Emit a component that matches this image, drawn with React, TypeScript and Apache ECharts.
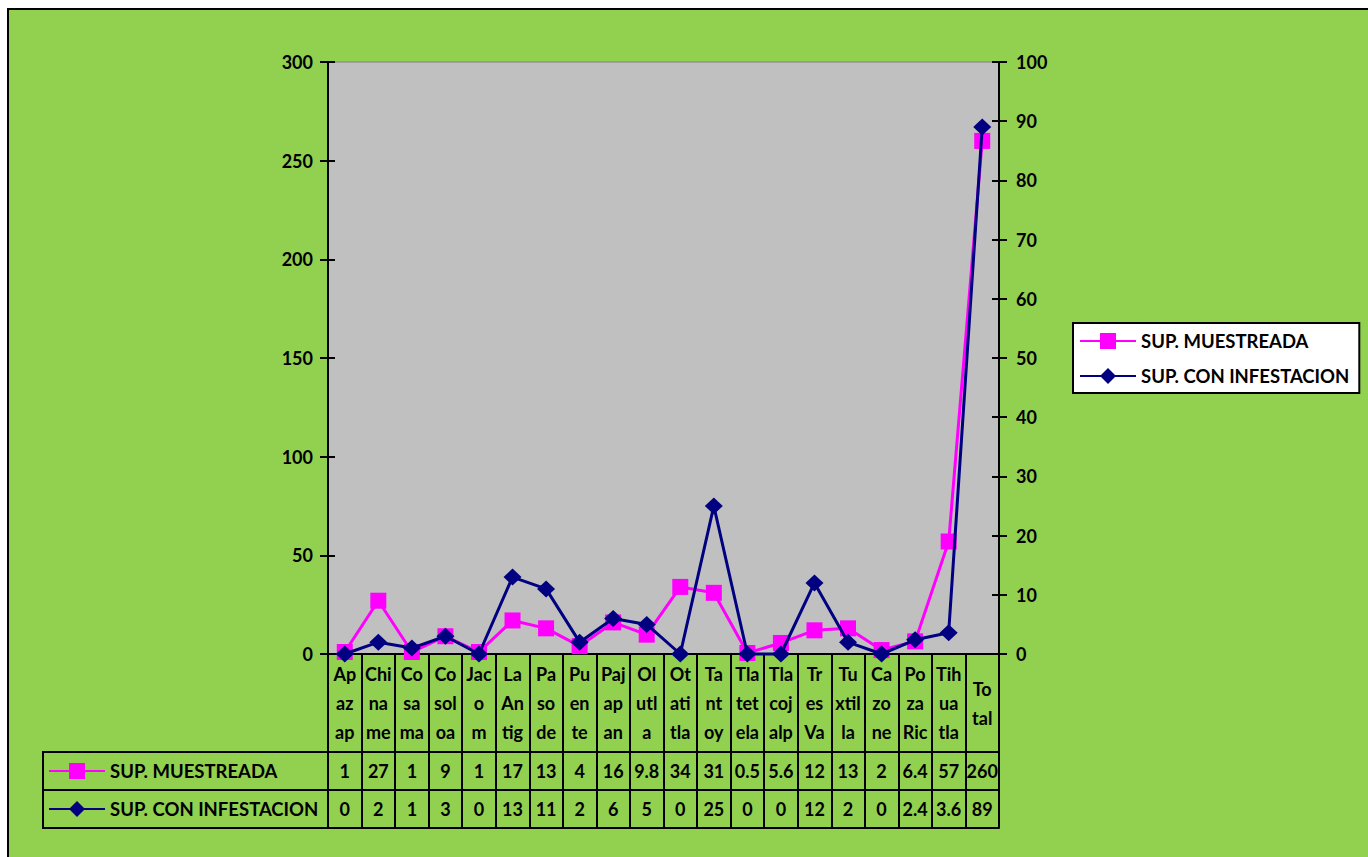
import React, { useEffect, useRef } from "react";
import * as echarts from "echarts";

const categories = [
  "Ap\naz\nap", "Chi\nna\nme", "Co\nsa\nma", "Co\nsol\noa", "Jac\no\nm",
  "La\nAn\ntig", "Pa\nso\nde", "Pu\nen\nte", "Paj\nap\nan", "Ol\nutl\na",
  "Ot\nati\ntla", "Ta\nnt\noy", "Tla\ntet\nela", "Tla\ncoj\nalp", "Tr\nes\nVa",
  "Tu\nxtil\nla", "Ca\nzo\nne", "Po\nza\nRic", "Tih\nua\ntla", "To\ntal",
];
const muestreada = [1, 27, 1, 9, 1, 17, 13, 4, 16, 9.8, 34, 31, 0.5, 5.6, 12, 13, 2, 6.4, 57, 260];
const infestacion = [0, 2, 1, 3, 0, 13, 11, 2, 6, 5, 0, 25, 0, 0, 12, 2, 0, 2.4, 3.6, 89];
const seriesNames = ["SUP. MUESTREADA", "SUP. CON INFESTACION"];
const leftAxis = { min: 0, max: 300, interval: 50 };
const rightAxis = { min: 0, max: 100, interval: 10 };

const FONT = "Lato, 'DejaVu Sans', sans-serif";
const W = 1368;
const H = 857;
const G = { left: 328, right: 999, top: 62, bottom: 654 };
const ROW1 = 752;
const ROW2 = 790;
const ROW3 = 828;
const TABLE_LEFT = 43;

export default function App() {
  const ref = useRef<HTMLDivElement>(null);
  useEffect(() => {
    if (!ref.current) return;
    const chart = echarts.init(ref.current, null, { renderer: "svg" });
    const txt = { fontFamily: FONT, fontWeight: "bold" as const, fontSize: 18, color: "#000" };
    const black2 = { color: "#000", width: 2 };
    const tableAxis = (offset: number, values: number[] | null) => ({
      type: "category" as const,
      data: categories,
      position: "bottom" as const,
      offset,
      boundaryGap: true,
      axisLine: { show: true, onZero: false, lineStyle: black2 },
      axisTick: { show: false },
      axisLabel: values
        ? {
            show: true,
            interval: 0,
            hideOverlap: false,
            verticalAlign: "middle" as const,
            margin: 19,
            ...txt,
            formatter: (_v: string, i: number) => String(values[i]),
          }
        : { show: false },
      splitLine: { show: false },
    });
    const yBase = (pos: "left" | "right", ax: typeof leftAxis) => ({
      type: "value" as const,
      position: pos,
      min: ax.min,
      max: ax.max,
      interval: ax.interval,
      splitLine: { show: false },
    });
    const lineLegend = {
      data: seriesNames,
      orient: "vertical" as const,
      itemWidth: 56,
      itemHeight: 20,
      textStyle: { ...txt, fontSize: 18.5, lineHeight: 22 },
      selectedMode: false,
    };
    chart.setOption({
      animation: false,
      backgroundColor: "#ffffff",
      graphic: [
        {
          type: "rect",
          z: -10,
          silent: true,
          shape: { x: 8, y: 9, width: W + 50, height: H + 50 },
          style: { fill: "#92D050", stroke: "#000", lineWidth: 2 },
        },
        { type: "line", shape: { x1: TABLE_LEFT, y1: ROW1, x2: G.left, y2: ROW1 }, style: { stroke: "#000", lineWidth: 2 } },
        { type: "line", shape: { x1: TABLE_LEFT, y1: ROW2, x2: G.left, y2: ROW2 }, style: { stroke: "#000", lineWidth: 2 } },
        { type: "line", shape: { x1: TABLE_LEFT, y1: ROW3, x2: G.left, y2: ROW3 }, style: { stroke: "#000", lineWidth: 2 } },
        { type: "line", shape: { x1: TABLE_LEFT, y1: ROW1 - 1, x2: TABLE_LEFT, y2: ROW3 + 1 }, style: { stroke: "#000", lineWidth: 2 } },
      ],
      legend: [
        {
          ...lineLegend,
          left: 1073,
          top: 323,
          padding: [7, 10, 6, 6],
          itemGap: 13,
          backgroundColor: "#ffffff",
          borderColor: "#000",
          borderWidth: 2,
        },
        {
          ...lineLegend,
          left: TABLE_LEFT + 5,
          top: 760,
          padding: 0,
          itemGap: 16,
        },
      ],
      grid: {
        left: G.left,
        right: W - G.right,
        top: G.top,
        bottom: H - G.bottom,
        show: true,
        backgroundColor: "#C0C0C0",
        borderColor: "#808080",
        borderWidth: 1,
        containLabel: false,
      },
      xAxis: [
        {
          type: "category",
          data: categories,
          position: "bottom",
          boundaryGap: true,
          axisLine: { show: true, onZero: false, lineStyle: black2 },
          axisTick: { show: true, inside: false, length: ROW3 - G.bottom, interval: 0, lineStyle: black2 },
          axisLabel: {
            show: true,
            interval: 0,
            hideOverlap: false,
            verticalAlign: "middle",
            margin: 49,
            lineHeight: 29,
            ...txt,
          },
          splitLine: { show: false },
        },
        tableAxis(ROW1 - G.bottom, muestreada),
        tableAxis(ROW2 - G.bottom, infestacion),
        tableAxis(ROW3 - G.bottom, null),
      ],
      yAxis: [
        {
          ...yBase("left", leftAxis),
          axisLine: { show: true, onZero: false, lineStyle: black2 },
          axisTick: { show: true, inside: false, length: 8, lineStyle: black2 },
          axisLabel: { ...txt, margin: 15 },
        },
        {
          ...yBase("right", rightAxis),
          axisLine: { show: true, onZero: false, lineStyle: black2 },
          axisTick: { show: true, inside: false, length: 8, lineStyle: black2 },
          axisLabel: { ...txt, margin: 17 },
        },
        {
          ...yBase("left", leftAxis),
          axisLine: { show: false, onZero: false },
          axisTick: { show: true, inside: true, length: 7, lineStyle: black2 },
          axisLabel: { show: false },
        },
        {
          ...yBase("right", rightAxis),
          axisLine: { show: false, onZero: false },
          axisTick: { show: true, inside: true, length: 7, lineStyle: black2 },
          axisLabel: { show: false },
        },
      ],
      series: [
        {
          name: seriesNames[0],
          type: "line",
          xAxisIndex: 0,
          yAxisIndex: 0,
          data: muestreada,
          clip: false,
          symbol: "rect",
          symbolSize: 16,
          itemStyle: { color: "#FF00FF" },
          lineStyle: { color: "#FF00FF", width: 3 },
          z: 3,
        },
        {
          name: seriesNames[1],
          type: "line",
          xAxisIndex: 0,
          yAxisIndex: 1,
          data: infestacion,
          clip: false,
          symbol: "diamond",
          symbolSize: [18, 17],
          itemStyle: { color: "#000080" },
          lineStyle: { color: "#000080", width: 3 },
          z: 4,
        },
      ],
    });
    return () => chart.dispose();
  }, []);
  return (
    <div
      ref={ref}
      style={{ position: "absolute", left: 0, top: 0, width: W, height: H }}
    />
  );
}
